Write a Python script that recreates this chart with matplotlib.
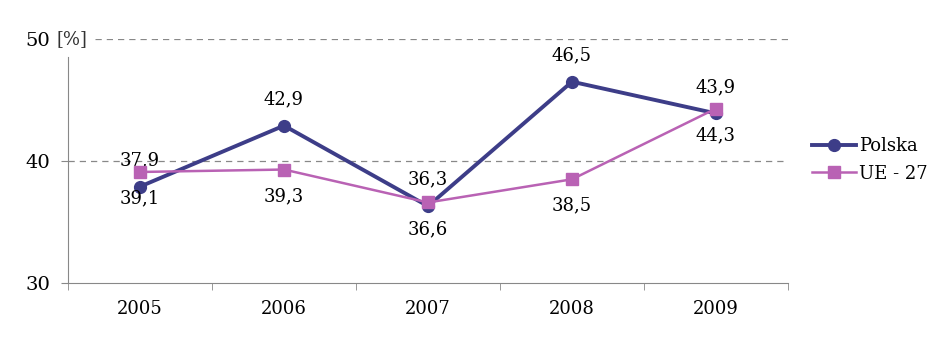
import matplotlib
matplotlib.use("Agg")
import matplotlib.pyplot as plt
from matplotlib.transforms import blended_transform_factory

lata = ["2005", "2006", "2007", "2008", "2009"]
polska = [37.9, 42.9, 36.3, 46.5, 43.9]
ue27 = [39.1, 39.3, 36.6, 38.5, 44.3]

plt.rcParams['font.family'] = ['DejaVu Serif']

fig = plt.figure(figsize=(9.5, 3.52), dpi=100)
ax = fig.add_axes([68/950, 1 - 283/352, 720/950, 244/352])

x = list(range(1, len(lata) + 1))
kolor_pl = "#3d3d88"
kolor_ue = "#b962b4"

ax.plot(x, polska, color=kolor_pl, lw=2.8, marker="o", ms=8.5, label="Polska", zorder=3)
ax.plot(x, ue27, color=kolor_ue, lw=1.8, marker="s", ms=8, label="UE - 27", zorder=4)

for xi, v in zip(x, polska):
    ax.annotate(f"{v:.1f}".replace(".", ","), (xi, v), xytext=(0, 19),
                textcoords="offset points", ha="center", va="center", fontsize=13)
for xi, v in zip(x, ue27):
    ax.annotate(f"{v:.1f}".replace(".", ","), (xi, v), xytext=(0, -19),
                textcoords="offset points", ha="center", va="center", fontsize=13)

ax.set_xlim(0.5, len(lata) + 0.5)
ax.set_ylim(30, 50)
ax.set_xticks(x)
ax.set_xticklabels(lata, fontsize=13)
ax.set_xticks([i + 0.5 for i in range(len(lata) + 1)], minor=True)
ax.tick_params(axis="x", which="major", length=0, pad=12)
ax.tick_params(axis="x", which="minor", length=5, color="#888888")

ax.set_yticks([30, 40, 50])
ax.set_yticklabels(["30", "40", "50"], fontsize=14)
ax.tick_params(axis="y", length=5, color="#888888", pad=8)
ax.yaxis.get_major_ticks()[2].tick1line.set_visible(False)

ax.axhline(40, color="#888888", lw=0.9, ls=(0, (5, 4)), zorder=1)
ax.axhline(50, xmin=(95 - 68) / 720, color="#888888", lw=0.9, ls=(0, (5, 4)), zorder=1)

tr = blended_transform_factory(fig.transFigure, ax.transData)
ax.text(57/950, 50, "[%]", transform=tr, ha="left", va="center", fontsize=13, color="#333333")

for s in ["top", "right"]:
    ax.spines[s].set_visible(False)
ax.spines["left"].set_bounds(30, 48.5)
ax.spines["left"].set_color("#888888")
ax.spines["bottom"].set_color("#888888")

fig.legend(loc="center left", bbox_to_anchor=(796/950, 1 - 160/352), frameon=False,
           fontsize=13, handlelength=2.4, handletextpad=0.2, labelspacing=0.5)

fig.savefig("out.png", dpi=100)
